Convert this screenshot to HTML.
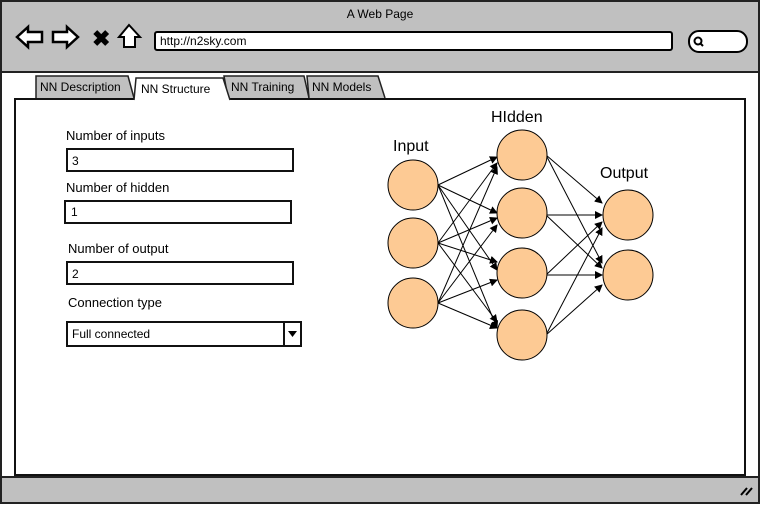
<!DOCTYPE html>
<html><head><style>body{margin:0;background:#fff}svg{display:block}text{font-family:"Liberation Sans",sans-serif}</style></head><body>
<svg width="761" height="505" viewBox="0 0 761 505" xmlns="http://www.w3.org/2000/svg">
<defs><marker id="a" markerWidth="8" markerHeight="8" refX="7" refY="4" orient="auto" markerUnits="userSpaceOnUse"><path d="M0,0 L8,4 L0,8 z" fill="#000"/></marker></defs>
<rect x="1" y="1" width="758" height="502" fill="#c0c0c0" stroke="#222" stroke-width="2"/>
<rect x="2" y="72" width="756" height="405" fill="#fff"/>
<line x1="1" y1="72" x2="759" y2="72" stroke="#222" stroke-width="2"/>
<line x1="1" y1="477" x2="759" y2="477" stroke="#222" stroke-width="2"/>
<text x="380" y="18" font-size="12" text-anchor="middle">A Web Page</text>
<path d="M17,37 L28,27 L28,32 L42,32 L42,42 L28,42 L28,47 z" fill="#fff" stroke="#000" stroke-width="2.5"/>
<path d="M78,37 L67,27 L67,32 L53,32 L53,42 L67,42 L67,47 z" fill="#fff" stroke="#000" stroke-width="2.5"/>
<text x="92" y="46" font-size="22" font-weight="bold">✖</text>
<path d="M129,25 L140,37 L135,37 L135,47 L124,47 L124,37 L119,37 z" fill="#fff" stroke="#000" stroke-width="2"/>
<rect x="155" y="32" width="517" height="18" rx="2" fill="#fff" stroke="#000" stroke-width="2"/>
<text x="160" y="45" font-size="12">http://n2sky.com</text>
<rect x="689" y="31" width="58" height="21" rx="10" fill="#fff" stroke="#000" stroke-width="2"/>
<circle cx="698" cy="41" r="3.5" fill="none" stroke="#000" stroke-width="2"/><line x1="700" y1="43" x2="703" y2="46" stroke="#000" stroke-width="2"/>
<path d="M36,98 L36,76 L128,76 L134,98" fill="#c0c0c0" stroke="#222" stroke-width="1.5"/>
<path d="M228,98 L224,76 L304,76 L309,98" fill="#c0c0c0" stroke="#222" stroke-width="1.5"/>
<path d="M309,98 L307,76 L378,76 L385,98" fill="#c0c0c0" stroke="#222" stroke-width="1.5"/>
<rect x="15" y="99" width="730" height="376" fill="#fff" stroke="#111" stroke-width="2"/>
<path d="M134,100 L136,78 L223,78 L230,100" fill="#fff" stroke="#222" stroke-width="1.5"/>
<text x="40" y="91" font-size="12">NN Description</text>
<text x="141" y="93" font-size="12">NN Structure</text>
<text x="231" y="91" font-size="12">NN Training</text>
<text x="312" y="91" font-size="12">NN Models</text>
<text x="66" y="140" font-size="13">Number of inputs</text>
<rect x="67" y="149" width="226" height="22" fill="#fff" stroke="#111" stroke-width="2"/><text x="72" y="165" font-size="12">3</text>
<text x="66" y="192" font-size="13">Number of hidden</text>
<rect x="65" y="201" width="226" height="22" fill="#fff" stroke="#111" stroke-width="2"/><text x="71" y="216" font-size="12">1</text>
<text x="68" y="253" font-size="13">Number of output</text>
<rect x="67" y="262" width="226" height="22" fill="#fff" stroke="#111" stroke-width="2"/><text x="72" y="278" font-size="12">2</text>
<text x="68" y="307" font-size="13">Connection type</text>
<rect x="67" y="322" width="234" height="24" fill="#fff" stroke="#111" stroke-width="2"/><line x1="284" y1="322" x2="284" y2="346" stroke="#111" stroke-width="2"/>
<path d="M288,331 L297,331 L292.5,337 z"/><text x="72" y="338" font-size="12">Full connected</text>
<g stroke="#000" stroke-width="1" marker-end="url(#a)">
<line x1="438" y1="185" x2="497" y2="157"/><line x1="438" y1="185" x2="497" y2="213"/><line x1="438" y1="185" x2="497" y2="270"/><line x1="438" y1="185" x2="497" y2="328"/>
<line x1="438" y1="243" x2="497" y2="163"/><line x1="438" y1="243" x2="497" y2="218"/><line x1="438" y1="243" x2="497" y2="262"/><line x1="438" y1="243" x2="497" y2="322"/>
<line x1="438" y1="303" x2="497" y2="167"/><line x1="438" y1="303" x2="497" y2="225"/><line x1="438" y1="303" x2="497" y2="280"/><line x1="438" y1="303" x2="497" y2="328"/>
<line x1="546" y1="155" x2="602" y2="203"/><line x1="546" y1="155" x2="602" y2="263"/>
<line x1="546" y1="215" x2="602" y2="215"/><line x1="546" y1="215" x2="602" y2="268"/>
<line x1="546" y1="275" x2="602" y2="222"/><line x1="546" y1="275" x2="602" y2="275"/>
<line x1="546" y1="335" x2="602" y2="228"/><line x1="546" y1="335" x2="602" y2="285"/>
</g>
<g fill="#fdca94" stroke="#000" stroke-width="1">
<circle cx="413" cy="185" r="25"/><circle cx="413" cy="243" r="25"/><circle cx="413" cy="303" r="25"/>
<circle cx="522" cy="155" r="25"/><circle cx="522" cy="213" r="25"/><circle cx="522" cy="273" r="25"/><circle cx="522" cy="335" r="25"/>
<circle cx="628" cy="215" r="25"/><circle cx="628" cy="275" r="25"/>
</g>
<text x="393" y="151" font-size="16" font-family="DejaVu Sans">Input</text>
<text x="491" y="122" font-size="16" font-family="DejaVu Sans">HIdden</text>
<text x="600" y="178" font-size="16" font-family="DejaVu Sans">Output</text>
<path d="M741,495 L747,488 M746,495 L752,488" stroke="#000" stroke-width="2"/>
</svg>
</body></html>
